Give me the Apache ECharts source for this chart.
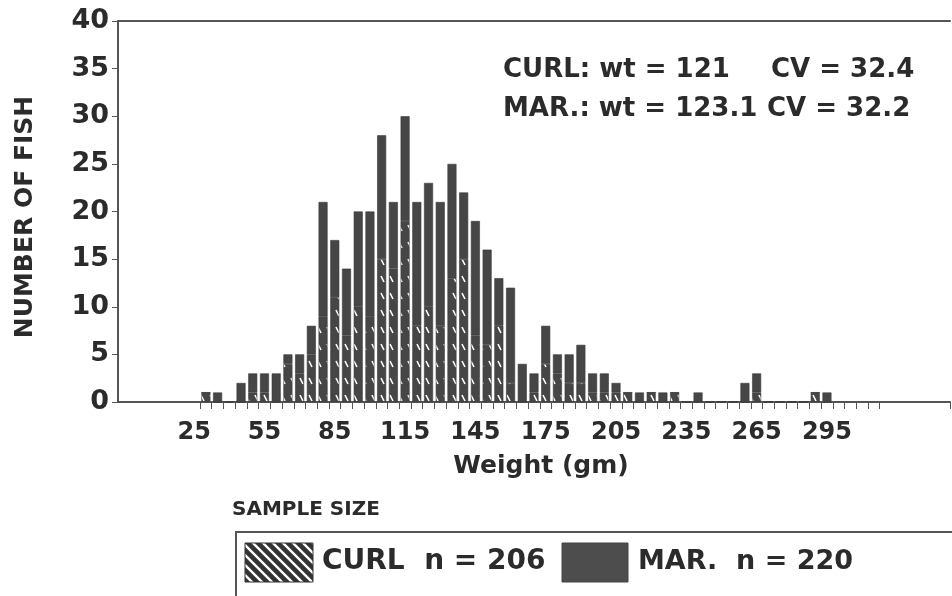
<!DOCTYPE html>
<html lang="en" style="height:100%">
<head>
    <meta charset="UTF-8">
    <title>Fish weight</title>
</head>
<body style="height: 100%; margin: 0; background: #fff">
<div id="container" style="width: 952px; height: 596px"></div>
<script type="text/javascript" src="https://cdn.jsdelivr.net/npm/echarts@6/dist/echarts.min.js"></script>
<script type="text/javascript">

    // weight bins (gm), one bar per bin
    var weights = [30, 35, 40, 45, 50, 55, 60, 65, 70, 75, 80, 85, 90, 95, 100, 105, 110, 115, 120, 125,
        130, 135, 140, 145, 150, 155, 160, 165, 170, 175, 180, 185, 190, 195, 200, 205, 210, 215, 220, 225,
        230, 235, 240, 245, 250, 255, 260, 265, 270, 275, 280, 285, 290, 295];
    // CURL counts (hatched, lower part of the bar)
    var curlCounts = [1, 0, 0, 0, 1, 1, 0, 4, 3, 5, 9, 11, 7, 10, 9, 15, 14, 19, 8, 10,
        8, 13, 15, 7, 6, 8, 2, 0, 1, 4, 3, 2, 2, 1, 1, 1, 1, 0, 1, 0,
        1, 0, 0, 0, 0, 0, 0, 1, 0, 0, 0, 0, 1, 0];
    // MAR. counts (solid, stacked on top)
    var marCounts = [0, 1, 0, 2, 2, 2, 3, 1, 2, 3, 12, 6, 7, 10, 11, 13, 7, 11, 13, 13,
        13, 12, 7, 12, 10, 5, 10, 4, 2, 4, 2, 3, 4, 2, 2, 1, 0, 1, 0, 1,
        0, 0, 1, 0, 0, 0, 2, 2, 0, 0, 0, 0, 0, 1];
    var tickLabels = [25, 55, 85, 115, 145, 175, 205, 235, 265, 295];
    var yTicks = [0, 5, 10, 15, 20, 25, 30, 35, 40];

    // axis runs from -5 to 345 gm in 5 gm steps
    var axisBins = [];
    for (var b = -5; b <= 345; b += 5) axisBins.push(String(b));

    var FONT = 'DejaVu Sans';
    var INK = '#2b2b2b';
    var BAR = '#464646';

    // hatch for bars: sparse white dashes
    function makeBarHatch() {
        var c = document.createElement('canvas');
        c.width = 9; c.height = 17;
        var g = c.getContext('2d');
        g.fillStyle = BAR;
        g.fillRect(0, 0, 9, 17);
        g.strokeStyle = '#ffffff';
        g.lineWidth = 1.6;
        g.beginPath();
        g.moveTo(3, 4);
        g.lineTo(6, 10);
        g.stroke();
        return c;
    }
    // hatch for the legend swatch: dense diagonal stripes
    function makeLegendHatch() {
        var c = document.createElement('canvas');
        c.width = 10; c.height = 10;
        var g = c.getContext('2d');
        g.fillStyle = '#333';
        g.fillRect(0, 0, 10, 10);
        g.strokeStyle = '#ffffff';
        g.lineWidth = 2.4;
        g.beginPath();
        g.moveTo(-2, -2); g.lineTo(12, 12);
        g.moveTo(-2, 8); g.lineTo(2, 12);
        g.moveTo(8, -2); g.lineTo(12, 2);
        g.stroke();
        return c;
    }

    var curlData = weights.map(function (w, i) { return [String(w), curlCounts[i]]; });
    var marData = weights.map(function (w, i) { return [String(w), marCounts[i]]; });

    // ticks only between 27.5 and 317.5 gm (left edge of bins 30 .. 320)
    function tickShown(index, value) {
        var n = Number(value);
        if (isNaN(n)) n = -5 + index * 5;
        return n >= 30 && n <= 320;
    }

    var dom = document.getElementById("container");
    var myChart = echarts.init(dom, null, {renderer: 'canvas'});

    var option = {
        backgroundColor: '#ffffff',
        animation: false,
        grid: {left: 118, right: 2, top: 21, bottom: 194},
        xAxis: [{
            type: 'category',
            data: axisBins,
            boundaryGap: true,
            axisLine: {lineStyle: {color: '#555', width: 2}},
            axisTick: {
                show: true,
                length: 7,
                lineStyle: {color: '#555', width: 1},
                interval: tickShown
            },
            axisLabel: {
                interval: function (index, value) { return tickLabels.indexOf(Number(value)) >= 0; },
                fontFamily: FONT, fontWeight: 'bold', fontSize: 24, color: INK, margin: 19
            },
            splitLine: {show: false}
        }, {
            type: 'category',
            position: 'top',
            data: axisBins,
            axisLine: {lineStyle: {color: '#555', width: 2}},
            axisTick: {show: false},
            axisLabel: {show: false}
        }],
        yAxis: {
            type: 'value',
            min: 0, max: 40, interval: 5,
            axisLine: {show: true, lineStyle: {color: '#555', width: 2}},
            axisTick: {show: true, length: 6, lineStyle: {color: '#555'}},
            axisLabel: {
                fontFamily: FONT, fontWeight: 'bold', fontSize: 27, color: INK, margin: 9,
                formatter: function (v) { return yTicks.indexOf(v) >= 0 ? String(v) : ''; }
            },
            splitLine: {show: false}
        },
        series: [{
            name: 'CURL',
            type: 'bar',
            stack: 'fish',
            barWidth: 9,
            data: curlData,
            itemStyle: {
                color: {image: makeBarHatch(), repeat: 'repeat'},
                borderColor: '#3a3a3a', borderWidth: 0.6
            }
        }, {
            name: 'MAR.',
            type: 'bar',
            stack: 'fish',
            barWidth: 9,
            data: marData,
            itemStyle: {color: BAR, borderColor: '#3a3a3a', borderWidth: 0.6}
        }],
        graphic: [
            {type: 'text', left: 503, top: 57,
                style: {text: 'CURL: wt = 121', font: 'bold 26px "DejaVu Sans"', fill: INK}},
            {type: 'text', left: 771, top: 57,
                style: {text: 'CV = 32.4', font: 'bold 26px "DejaVu Sans"', fill: INK}},
            {type: 'text', left: 503, top: 96,
                style: {text: 'MAR.: wt = 123.1', font: 'bold 26px "DejaVu Sans"', fill: INK}},
            {type: 'text', left: 767, top: 96,
                style: {text: 'CV = 32.2', font: 'bold 26px "DejaVu Sans"', fill: INK}},
            // axis names
            {type: 'text', x: 25, y: 217, rotation: Math.PI / 2,
                style: {text: 'NUMBER OF FISH', font: 'bold 25px "DejaVu Sans"', fill: INK,
                    align: 'center', verticalAlign: 'middle'}},
            {type: 'text', x: 541, y: 466,
                style: {text: 'Weight (gm)', font: 'bold 25px "DejaVu Sans"', fill: INK,
                    align: 'center', verticalAlign: 'middle'}},
            // sample size legend
            {type: 'text', x: 232, y: 510,
                style: {text: 'SAMPLE SIZE', font: 'bold 20px "DejaVu Sans"', fill: INK,
                    verticalAlign: 'middle'}},
            {type: 'rect', shape: {x: 236, y: 532, width: 740, height: 80},
                style: {fill: 'none', stroke: '#555', lineWidth: 2}},
            {type: 'rect', shape: {x: 245, y: 543, width: 68, height: 39},
                style: {fill: {image: makeLegendHatch(), repeat: 'repeat'}, stroke: '#333', lineWidth: 1}},
            {type: 'text', x: 322, y: 562,
                style: {text: 'CURL  n = 206', font: 'bold 28px "DejaVu Sans"', fill: INK,
                    verticalAlign: 'middle'}},
            {type: 'rect', shape: {x: 562, y: 543, width: 66, height: 39},
                style: {fill: '#4d4d4d', stroke: '#444', lineWidth: 1}},
            {type: 'text', x: 638, y: 562,
                style: {text: 'MAR.  n = 220', font: 'bold 27px "DejaVu Sans"', fill: INK,
                    verticalAlign: 'middle'}}
        ]
    };
    myChart.setOption(option);

</script>
</body>
</html>
